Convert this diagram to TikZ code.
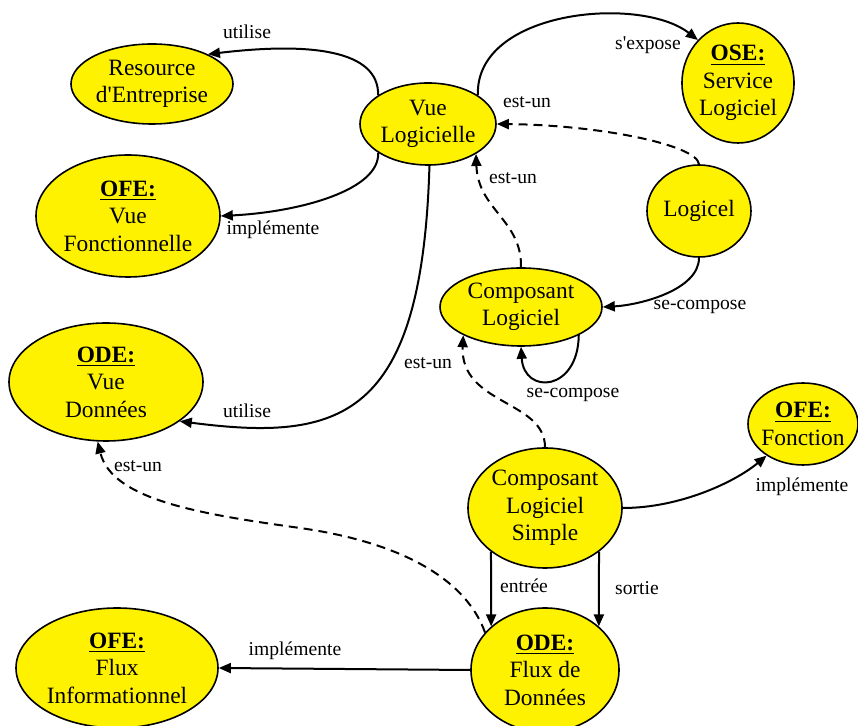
\documentclass[tikz,border=0pt]{standalone}
\usepackage{fontspec}
\setmainfont{Liberation Serif}
\usetikzlibrary{shapes.geometric,arrows.meta}

\begin{document}
\begin{tikzpicture}[x=0.5pt,y=-0.5pt,
    ent/.style={ellipse,draw,line width=.8pt,fill=yellow,inner sep=-3pt,align=center,
      font=\fontsize{11.7}{13.7}\selectfont},
    rel/.style={line width=1pt,-{Triangle[length=6pt,width=5pt]}},
    isa/.style={rel,dash pattern=on 4.5pt off 3pt},
    lbl/.style={font=\fontsize{9.8}{11}\selectfont,inner sep=0pt}]
  \useasboundingbox (0,0) rectangle (858,726);

    % concepts
    \node[ent,minimum width=81pt,minimum height=40pt] (res) at (152,84) {Resource\\d\textquotesingle Entreprise};
    \node[ent,minimum width=68pt,minimum height=41pt] (vl) at (428,124) {Vue\\Logicielle};
    \node[ent,minimum width=56pt,minimum height=60pt] (ose) at (738,83) {\underline{\textbf{OSE:}}\\Service\\Logiciel};
    \node[ent,minimum width=92pt,minimum height=61pt] (vf) at (128,216) {\underline{\textbf{OFE:}}\\Vue\\Fonctionnelle};
    \node[ent,minimum width=52pt,minimum height=46pt] (lg) at (699,211) {Logicel};
    \node[ent,minimum width=81pt,minimum height=39pt] (cl) at (521,307) {Composant\\Logiciel};
    \node[ent,minimum width=97pt,minimum height=59pt] (vd) at (106,382) {\underline{\textbf{ODE:}}\\Vue\\Données};
    \node[ent,minimum width=55pt,minimum height=41pt] (fn) at (803,424) {\underline{\textbf{OFE:}}\\Fonction};
    \node[ent,minimum width=77pt,minimum height=60pt] (cls) at (545,508) {Composant\\Logiciel\\Simple};
    \node[ent,minimum width=74pt,minimum height=62pt] (fd) at (545,670) {\underline{\textbf{ODE:}}\\Flux de\\Données};
    \node[ent,minimum width=101pt,minimum height=60pt] (fi) at (117,668) {\underline{\textbf{OFE:}}\\Flux\\Informationnel};

    % relations
    \draw[rel] (vl.150) .. controls (379,50) and (310,42) .. (res.28);
    \draw[rel] (vl.210) .. controls (380,190) and (300,212) .. (vf.east);
    \draw[rel] (vl.30) .. controls (475,10) and (640,-5) .. (ose.133);
    \draw[isa] (lg.north) .. controls (697,145) and (600,125) .. (vl.east);
    \draw[isa] (cl.north) .. controls (522,220) and (478,210) .. (vl.328);
    \draw[rel] (lg.south) .. controls (699,290) and (640,305) .. (cl.east);
    \draw[rel] (cl.334) .. controls (578,392) and (524,395) .. (cl.south);
    \draw[isa] (cls.north) .. controls (545,400) and (460,405) .. (cl.206);
    \draw[rel] (vl.272) .. controls (422,420) and (340,442) .. (vd.-28);
    \draw[isa] (fd.148) .. controls (470,590) and (420,545) .. (300,528)
      .. controls (200,514) and (112,500) .. (vd.262);
    \draw[rel] (cls.east) .. controls (680,508) and (735,482) .. (fn.221);
    \draw[rel] (cls.219) -- (fd.141);
    \draw[rel] (cls.321) -- (fd.39);
    \draw[rel] (fd.west) -- (fi.east);

    % labels
    \node[lbl] (l-res) at (247,32) {utilise};
    \node[lbl] (l-vf) at (273,230) {implémente};
    \node[lbl] (l-ose) at (648,45) {s\textquotesingle expose};
    \node[lbl] (l-lg) at (527,102) {est-un};
    \node[lbl] (l-cl) at (513,178) {est-un};
    \node[lbl] (l-lgcl) at (700,307) {se-compose};
    \node[lbl] (l-loop) at (573,395) {se-compose};
    \node[lbl] (l-cls) at (428,363) {est-un};
    \node[lbl] (l-vd) at (247,411) {utilise};
    \node[lbl] (l-fd) at (138,466) {est-un};
    \node[lbl] (l-fn) at (802,487) {implémente};
    \node[lbl] (l-in) at (524,586) {entrée};
    \node[lbl] (l-out) at (637,588) {sortie};
    \node[lbl] (l-fi) at (295,651) {implémente};
\end{tikzpicture}
\end{document}
